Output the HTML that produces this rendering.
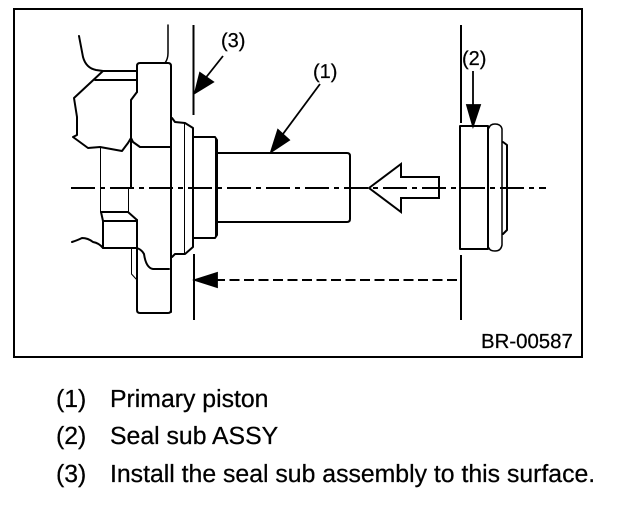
<!DOCTYPE html>
<html><head><meta charset="utf-8"><style>
html,body{margin:0;padding:0;background:#fff}
svg{display:block}
text{font-family:"Liberation Sans",sans-serif;fill:#000;stroke:#000;stroke-width:.25;text-rendering:geometricPrecision}
</style></head><body>
<svg width="640" height="510" viewBox="0 0 640 510" xmlns="http://www.w3.org/2000/svg">
<rect x="14" y="9" width="568" height="348" fill="#fff" stroke="#000" stroke-width="2"/>
<g fill="none" stroke="#000" stroke-width="2" stroke-linejoin="round" stroke-linecap="round">
<!-- body upper -->
<path d="M168 25V53Q168 59 165 63" stroke-width="1.500"/>
<path d="M79 36L83 57Q86 68 96 70L103 71H137"/>
<path d="M95 80H137"/>
<path d="M103 71L74 98L77 117L77 135L73 137L88 148L100 147L122 151L128 143L131 138"/>
<!-- flange -->
<path d="M137 92V66Q137 63 140 63H168Q171 63 171 66V312"/>
<path d="M137 92L131 100V187"/>
<path d="M131 138L133 142L140 147H171"/>
<path d="M137 220V310Q137 313 140 313H168Q171 313 171 310"/>
<!-- lower body -->
<path d="M72 242Q78 240 82 238Q88 238 93 242Q99 243 103 248V221H137"/>
<path d="M103 248H137Q142 250 144 254Q146 268 153 269H169"/>
<path d="M101 212H128L137 220"/>
<path d="M101 212L103 221"/>
<!-- steps -->
<path d="M172 118L175 122L185 123L193 128V247L185 254H175L172 257"/>
<path d="M194 137H215L217 140V235L215 238H194"/>
<path d="M217 153H347Q350 153 350 156V219Q350 222 347 222H217"/>
<!-- seal -->
<path d="M460 126H488V249H460Z"/>
<path d="M489 128Q490 124 495 124Q501 124 502 129V245Q501 251 495 251Q490 251 489 248" stroke-width="1.500"/>
<path d="M503 142L507 145V230L503 234"/>
</g>
<g fill="none" stroke="#000" stroke-width="1">
<path d="M100.500 147V212"/>
<path d="M128.500 187V212"/>
<path d="M131.500 249V274L137 280"/>
<path d="M184.500 123V253"/>
<path d="M215.500 137V238"/>
</g>
<!-- reference lines -->
<g stroke="#000" stroke-width="2" fill="none">
<path d="M193.500 25V115"/>
<path d="M194 254V320"/>
<path d="M461 25V123"/>
<path d="M461 255V320"/>
<path d="M71 188H546" stroke-dasharray="24 5 5 5"/>
<path d="M457 280H217" stroke-dasharray="10 4.500"/>
</g>
<!-- hollow arrow -->
<path d="M369 188L401 164V177H439V198H401V212Z" fill="none" stroke="#000" stroke-width="2"/>
<!-- leader arrows -->
<g stroke="#000" stroke-width="1.800" fill="#000">
<path d="M223 56L200 85" fill="none"/>
<path d="M195 93L200 73L213 82Z"/>
<path d="M320 84L280 138" fill="none"/>
<path d="M271 152L278 130L289 140Z"/>
<path d="M473 71V122" fill="none"/>
<path d="M473 126L467 105H480Z"/>
<path d="M195 280L217 273V287Z"/>
</g>
<text x="221" y="47" font-size="20">(3)</text>
<text x="313" y="78" font-size="20">(1)</text>
<text x="462" y="65" font-size="20">(2)</text>
<text x="481" y="348" font-size="20.400">BR-00587</text>
<text x="56" y="407" font-size="24.800">(1)</text>
<text x="110" y="407" font-size="24.800">Primary piston</text>
<text x="56" y="444" font-size="24.800">(2)</text>
<text x="110" y="444" font-size="24.800">Seal sub ASSY</text>
<text x="56" y="482" font-size="24.800">(3)</text>
<text x="110" y="482" font-size="24.800">Install the seal sub assembly to this surface.</text>
</svg>
</body></html>
